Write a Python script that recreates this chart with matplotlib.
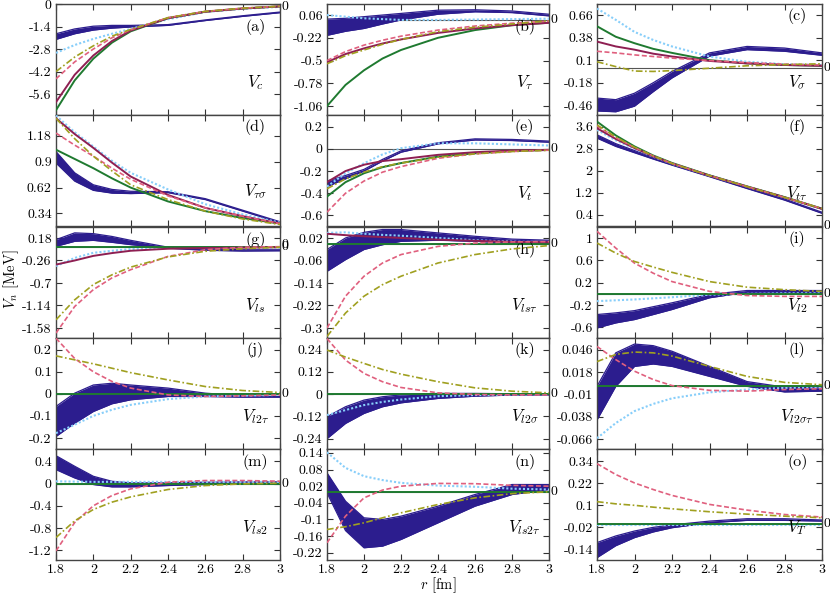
import matplotlib.pyplot as plt
import matplotlib.transforms as mtransforms

plt.rcParams['font.family'] = 'serif'
plt.rcParams['font.serif'] = ['cmr10', 'DejaVu Serif']
plt.rcParams['mathtext.fontset'] = 'cm'
plt.rcParams['axes.formatter.use_mathtext'] = True
plt.rcParams['axes.unicode_minus'] = False

R = [1.8, 1.9, 2.0, 2.1, 2.2, 2.4, 2.6, 2.8, 3.0]
ZERO = [0, 0, 0, 0, 0, 0, 0, 0, 0]

# (a) V_c
A_LO = [-2.2, -1.85, -1.62, -1.5, -1.43, -1.33, -1.03, -0.77, -0.54]
A_HI = [-1.85, -1.55, -1.38, -1.33, -1.33, -1.28, -0.99, -0.73, -0.5]
A_SKY = [-3.04, -2.55, -2.17, -1.85, -1.55, -0.95, -0.5, -0.3, -0.18]
A_GREEN = [-6.6, -4.75, -3.4, -2.4, -1.7, -0.88, -0.48, -0.28, -0.15]
A_MAROON = [-6.1, -4.4, -3.2, -2.3, -1.65, -0.88, -0.48, -0.28, -0.15]
A_PINK = [-4.65, -3.6, -2.8, -2.1, -1.6, -0.85, -0.46, -0.26, -0.14]
A_OLIVE = [-4.2, -3.3, -2.6, -2.0, -1.58, -0.85, -0.46, -0.26, -0.14]

# (b) V_tau
B_LO = [-0.19, -0.14, -0.105, -0.05, 0.0, 0.07, 0.1, 0.09, 0.05]
B_HI = [0.01, 0.02, 0.04, 0.06, 0.08, 0.12, 0.125, 0.11, 0.07]
B_SKY = [0.06, 0.04, 0.02, 0.01, 0.0, 0.0, 0.005, 0.01, 0.015]
B_GREEN = [-1.06, -0.8, -0.62, -0.475, -0.37, -0.22, -0.125, -0.065, -0.035]
B_MAROON = [-0.52, -0.42, -0.35, -0.29, -0.24, -0.16, -0.105, -0.065, -0.035]
B_PINK = [-0.5, -0.39, -0.31, -0.25, -0.2, -0.125, -0.075, -0.04, -0.015]
B_OLIVE = [-0.54, -0.44, -0.37, -0.3, -0.24, -0.145, -0.09, -0.05, -0.01]

# (c) V_sigma
C_LO = [-0.53, -0.54, -0.47, -0.29, -0.12, 0.15, 0.23, 0.21, 0.16]
C_HI = [-0.37, -0.39, -0.31, -0.18, -0.04, 0.19, 0.27, 0.25, 0.19]
C_SKY = [0.74, 0.6, 0.45, 0.35, 0.27, 0.145, 0.08, 0.05, 0.04]
C_GREEN = [0.52, 0.39, 0.31, 0.24, 0.19, 0.1, 0.06, 0.04, 0.03]
C_MAROON = [0.33, 0.27, 0.23, 0.18, 0.145, 0.09, 0.06, 0.04, 0.03]
C_PINK = [0.21, 0.19, 0.165, 0.145, 0.125, 0.095, 0.07, 0.05, 0.04]
C_OLIVE = [0.08, 0.02, -0.035, -0.04, -0.03, 0.0, 0.03, 0.045, 0.055]

# (d) V_tau sigma
D_LO = [0.886, 0.69, 0.59, 0.56, 0.555, 0.565, 0.49, 0.365, 0.24]
D_HI = [1.01, 0.78, 0.65, 0.6, 0.58, 0.575, 0.5, 0.375, 0.25]
D_SKY = [1.4, 1.22, 1.065, 0.91, 0.78, 0.6, 0.44, 0.33, 0.24]
D_GREEN = [1.03, 0.93, 0.83, 0.72, 0.62, 0.47, 0.365, 0.29, 0.23]
D_MAROON = [1.37, 1.2, 1.05, 0.89, 0.74, 0.54, 0.4, 0.31, 0.23]
D_PINK = [1.21, 1.08, 0.96, 0.83, 0.71, 0.53, 0.4, 0.31, 0.23]
D_OLIVE = [1.37, 1.15, 0.96, 0.8, 0.65, 0.49, 0.365, 0.28, 0.22]

# (e) V_t
E_LO = [-0.34, -0.27, -0.2, -0.11, -0.03, 0.045, 0.08, 0.075, 0.06]
E_HI = [-0.29, -0.24, -0.185, -0.095, -0.018, 0.055, 0.09, 0.085, 0.07]
E_SKY = [-0.34, -0.22, -0.13, -0.05, 0.006, 0.05, 0.05, 0.04, 0.03]
E_GREEN = [-0.43, -0.3, -0.22, -0.165, -0.128, -0.07, -0.04, -0.02, -0.01]
E_MAROON = [-0.3, -0.2, -0.143, -0.11, -0.093, -0.054, -0.03, -0.015, -0.009]
E_PINK = [-0.57, -0.4, -0.29, -0.21, -0.16, -0.085, -0.045, -0.024, -0.012]
E_OLIVE = [-0.36, -0.27, -0.21, -0.16, -0.128, -0.075, -0.045, -0.024, -0.012]

# (f) V_t tau
F_LO = [3.18, 2.88, 2.65, 2.42, 2.2, 1.78, 1.35, 0.93, 0.45]
F_HI = [3.3, 2.98, 2.73, 2.48, 2.25, 1.82, 1.39, 0.97, 0.49]
F_SKY = [3.48, 3.1, 2.8, 2.51, 2.25, 1.82, 1.42, 1.03, 0.6]
F_GREEN = [3.78, 3.28, 2.88, 2.55, 2.28, 1.83, 1.43, 1.04, 0.62]
F_MAROON = [3.54, 3.15, 2.82, 2.52, 2.26, 1.82, 1.42, 1.03, 0.61]
F_PINK = [3.62, 3.2, 2.84, 2.53, 2.26, 1.82, 1.42, 1.03, 0.62]
F_OLIVE = [3.66, 3.22, 2.85, 2.53, 2.26, 1.82, 1.42, 1.03, 0.62]

# (g) V_ls
G_LO = [0.017, 0.115, 0.134, 0.095, 0.05, -0.02, -0.06, -0.075, -0.07]
G_HI = [0.147, 0.28, 0.265, 0.21, 0.134, 0.0, -0.035, -0.05, -0.05]
G_SKY = [-0.37, -0.21, -0.11, -0.07, -0.036, -0.01, -0.01, -0.01, -0.01]
G_MAROON = [-0.34, -0.26, -0.17, -0.115, -0.07, -0.03, -0.015, -0.01, 0.0]
G_PINK = [-1.68, -1.16, -0.83, -0.6, -0.44, -0.18, -0.05, 0.0, 0.01]
G_OLIVE = [-1.42, -1.03, -0.73, -0.54, -0.39, -0.19, -0.08, -0.03, 0.0]

# (h) V_ls tau
H_LO = [-0.0985, -0.057, -0.021, -0.004, 0.008, 0.012, 0.008, 0.002, 0.0]
H_HI = [-0.021, 0.02, 0.04, 0.05, 0.05, 0.038, 0.026, 0.016, 0.012]
H_SKY = [0.038, 0.04, 0.035, 0.031, 0.028, 0.02, 0.012, 0.007, 0.005]
H_MAROON = [0.035, 0.03, 0.026, 0.023, 0.02, 0.014, 0.01, 0.006, 0.005]
H_PINK = [-0.3, -0.187, -0.116, -0.069, -0.039, -0.01, 0.002, 0.006, 0.007]
H_OLIVE = [-0.33, -0.247, -0.187, -0.146, -0.116, -0.069, -0.039, -0.019, -0.007]

# (i) V_l2
I_LO = [-0.61, -0.52, -0.46, -0.37, -0.28, -0.07, 0.03, 0.03, 0.015]
I_HI = [-0.37, -0.34, -0.3, -0.23, -0.16, -0.01, 0.06, 0.06, 0.06]
I_SKY = [-0.13, -0.115, -0.1, -0.08, -0.06, -0.015, 0.0, 0.01, 0.01]
I_PINK = [1.12, 0.82, 0.55, 0.37, 0.22, 0.045, -0.03, -0.045, -0.045]
I_OLIVE = [0.91, 0.73, 0.58, 0.48, 0.385, 0.22, 0.12, 0.075, 0.045]

# (j) V_l2 tau
J_LO = [-0.193, -0.133, -0.08, -0.045, -0.027, -0.012, -0.012, -0.015, -0.015]
J_HI = [-0.057, 0.003, 0.04, 0.048, 0.04, 0.026, 0.003, -0.009, -0.012]
J_SKY = [-0.178, -0.14, -0.1, -0.072, -0.05, -0.024, -0.012, -0.008, -0.005]
J_PINK = [0.252, 0.16, 0.1, 0.056, 0.026, -0.005, -0.012, -0.009, -0.005]
J_OLIVE = [0.172, 0.154, 0.136, 0.116, 0.096, 0.063, 0.033, 0.015, 0.006]

# (k) V_l2 sigma
K_LO = [-0.24, -0.158, -0.104, -0.068, -0.047, -0.023, -0.011, -0.005, -0.004]
K_HI = [-0.122, -0.068, -0.032, -0.014, -0.004, 0.004, 0.004, 0.002, 0.0]
K_SKY = [-0.113, -0.086, -0.059, -0.042, -0.029, -0.011, -0.005, -0.002, 0.0]
K_PINK = [0.3, 0.184, 0.112, 0.067, 0.036, 0.007, -0.002, -0.004, -0.004]
K_OLIVE = [0.238, 0.2, 0.166, 0.133, 0.108, 0.067, 0.034, 0.016, 0.007]

# (l) V_l2 sigma tau
L_LO = [-0.042, 0.0, 0.025, 0.028, 0.025, 0.0125, 0.0, -0.007, -0.006]
L_HI = [0.0, 0.042, 0.053, 0.051, 0.044, 0.025, 0.006, -0.001, -0.002]
L_SKY = [-0.065, -0.046, -0.031, -0.022, -0.015, -0.0075, -0.004, -0.002, -0.001]
L_PINK = [0.05, 0.0335, 0.019, 0.0085, 0.001, -0.005, -0.006, -0.004, -0.003]
L_OLIVE = [0.031, 0.04, 0.043, 0.042, 0.038, 0.025, 0.0125, 0.005, 0.002]

# (m) V_ls2
M_LO = [0.25, 0.1, -0.018, -0.06, -0.06, -0.036, -0.018, -0.012, -0.006]
M_HI = [0.5, 0.31, 0.13, 0.04, 0.012, 0.012, 0.024, 0.03, 0.03]
M_SKY = [0.04, 0.035, 0.03, 0.03, 0.03, 0.03, 0.03, 0.03, 0.03]
M_PINK = [-1.21, -0.7, -0.4, -0.215, -0.096, 0.024, 0.054, 0.054, 0.042]
M_OLIVE = [-0.97, -0.67, -0.466, -0.334, -0.24, -0.107, -0.036, -0.006, 0.006]

# (n) V_ls2 tau
N_LO = [-0.004, -0.14, -0.202, -0.196, -0.172, -0.112, -0.052, -0.01, 0.008]
N_HI = [0.068, -0.034, -0.094, -0.1, -0.088, -0.052, -0.01, 0.026, 0.026]
N_SKY = [0.142, 0.086, 0.056, 0.042, 0.032, 0.022, 0.018, 0.011, 0.008]
N_PINK = [-0.184, -0.088, -0.022, 0.006, 0.02, 0.03, 0.029, 0.023, 0.02]
N_OLIVE = [-0.136, -0.126, -0.112, -0.094, -0.076, -0.046, -0.022, -0.007, 0.0]

# (o) V_T
O_LO = [-0.185, -0.12, -0.076, -0.045, -0.022, 0.005, 0.018, 0.018, 0.014]
O_HI = [-0.103, -0.067, -0.04, -0.02, -0.007, 0.014, 0.027, 0.027, 0.02]
O_SKY = [-0.008, -0.008, -0.008, -0.008, -0.008, -0.008, -0.008, -0.008, -0.008]
O_PINK = [0.327, 0.268, 0.222, 0.186, 0.154, 0.105, 0.074, 0.05, 0.036]
O_OLIVE = [0.12, 0.108, 0.1, 0.09, 0.081, 0.065, 0.052, 0.041, 0.032]

XTICKS = [1.8, 2.0, 2.2, 2.4, 2.6, 2.8, 3.0]

BAND = '#2c1d8e'
SKY = '#87cefa'
GREEN = '#1f7a30'
MAROON = '#8e1f52'
PINK = '#e0607e'
OLIVE = '#a0a020'

# letter, V label, ylim, yticks, band lo/hi, sky, green, maroon, pink, olive, letter height
panels = [
    ('(a)', r'$V_c$', (-6.9, 0), [0, -1.4, -2.8, -4.2, -5.6], A_LO, A_HI, A_SKY, A_GREEN, A_MAROON, A_PINK, A_OLIVE, 0.79),
    ('(b)', r'$V_\tau$', (-1.17, 0.196), [0.06, -0.22, -0.5, -0.78, -1.06], B_LO, B_HI, B_SKY, B_GREEN, B_MAROON, B_PINK, B_OLIVE, 0.79),
    ('(c)', r'$V_\sigma$', (-0.58, 0.796), [0.66, 0.38, 0.1, -0.18, -0.46], C_LO, C_HI, C_SKY, C_GREEN, C_MAROON, C_PINK, C_OLIVE, 0.89),
    ('(d)', r'$V_{\tau\sigma}$', (0.204, 1.406), [1.18, 0.9, 0.62, 0.34], D_LO, D_HI, D_SKY, D_GREEN, D_MAROON, D_PINK, D_OLIVE, 0.89),
    ('(e)', r'$V_t$', (-0.695, 0.305), [0.2, 0, -0.2, -0.4, -0.6], E_LO, E_HI, E_SKY, E_GREEN, E_MAROON, E_PINK, E_OLIVE, 0.89),
    ('(f)', r'$V_{t\tau}$', (-0.01, 4.02), [3.6, 2.8, 2, 1.2, 0.4], F_LO, F_HI, F_SKY, F_GREEN, F_MAROON, F_PINK, F_OLIVE, 0.89),
    ('(g)', r'$V_{ls}$', (-1.776, 0.395), [0.18, -0.26, -0.7, -1.14, -1.58], G_LO, G_HI, G_SKY, ZERO, G_MAROON, G_PINK, G_OLIVE, 0.885),
    ('(h)', r'$V_{ls\tau}$', (-0.3356, 0.059), [0.02, -0.06, -0.14, -0.22, -0.3], H_LO, H_HI, H_SKY, ZERO, H_MAROON, H_PINK, H_OLIVE, 0.79),
    ('(i)', r'$V_{l2}$', (-0.79, 1.197), [1, 0.6, 0.2, -0.2, -0.6], I_LO, I_HI, I_SKY, ZERO, None, I_PINK, I_OLIVE, 0.89),
    ('(j)', r'$V_{l2\tau}$', (-0.25, 0.253), [0.2, 0.1, 0, -0.1, -0.2], J_LO, J_HI, J_SKY, ZERO, None, J_PINK, J_OLIVE, 0.89),
    ('(k)', r'$V_{l2\sigma}$', (-0.296, 0.303), [0.24, 0.12, 0, -0.12, -0.24], K_LO, K_HI, K_SKY, ZERO, None, K_PINK, K_OLIVE, 0.89),
    ('(l)', r'$V_{l2\sigma\tau}$', (-0.0785, 0.0606), [0.046, 0.018, -0.01, -0.038, -0.066], L_LO, L_HI, L_SKY, ZERO, None, L_PINK, L_OLIVE, 0.89),
    ('(m)', r'$V_{ls2}$', (-1.373, 0.62), [0.4, 0, -0.4, -0.8, -1.2], M_LO, M_HI, M_SKY, ZERO, None, M_PINK, M_OLIVE, 0.885),
    ('(n)', r'$V_{ls2\tau}$', (-0.246, 0.154), [0.14, 0.08, 0.02, -0.04, -0.1, -0.16, -0.22], N_LO, N_HI, N_SKY, ZERO, None, N_PINK, N_OLIVE, 0.885),
    ('(o)', r'$V_T$', (-0.198, 0.407), [0.34, 0.22, 0.1, -0.02, -0.14], O_LO, O_HI, O_SKY, ZERO, None, O_PINK, O_OLIVE, 0.885),
]

W, H = 830, 593
lefts = [56, 327, 597]
widths = [224, 222, 225]
tops = [4, 115, 227, 338, 449]
ph = 111

fig = plt.figure(figsize=(8.3, 5.93), dpi=100)

for i, p in enumerate(panels):
    letter, vlab, ylim, yt, lo, hi, sky, green, maroon, pink, olive, ly = p
    row, col = divmod(i, 3)
    ax = fig.add_axes([lefts[col] / W, 1 - (tops[row] + ph) / H, widths[col] / W, ph / H])

    ax.axhline(0, color='#555555', lw=0.8, zorder=1)
    ax.fill_between(R, lo, hi, color=BAND, lw=0, zorder=2)
    ax.plot(R, lo, color=BAND, lw=0.9, zorder=2)
    ax.plot(R, hi, color=BAND, lw=0.9, zorder=2)
    ax.plot(R, sky, color=SKY, lw=1.5, ls=(0, (1, 1)), zorder=3)
    ax.plot(R, green, color=GREEN, lw=1.4, zorder=3)
    if maroon is not None:
        ax.plot(R, maroon, color=MAROON, lw=1.4, zorder=3)
    ax.plot(R, pink, color=PINK, lw=1.2, ls=(0, (3, 1.5)), zorder=4)
    ax.plot(R, olive, color=OLIVE, lw=1.2, ls=(0, (4, 1.5, 1, 1.5)), zorder=4)

    ax.set_xlim(1.8, 3.0)
    ax.set_ylim(*ylim)
    ax.set_xticks(XTICKS, ['%g' % t for t in XTICKS])
    ax.set_yticks(yt, ['%g' % t for t in yt])
    ax.tick_params(direction='in', top=True, right=True, length=4, width=0.8,
                   color='#333333', labelsize=10, pad=3)
    if row < 4:
        ax.tick_params(labelbottom=False)
    for s in ax.spines.values():
        s.set_color('#444444')
        s.set_linewidth(1.0)

    # zero marker on the right-hand axis
    trans = mtransforms.blended_transform_factory(ax.transAxes, ax.transData)
    if ylim[1] == 0:
        trans = trans + mtransforms.ScaledTranslation(0, -2 / 72, fig.dpi_scale_trans)
    ax.text(1.008, 0, '0', transform=trans, ha='left', va='center', fontsize=10, clip_on=False)
    ax.text(0.89, ly, letter, transform=ax.transAxes, ha='center', va='center', fontsize=11.5)
    ax.text(0.89, 0.31 if i == 3 else 0.29, vlab, transform=ax.transAxes,
            ha='center', va='center', fontsize=12)

fig.text(0.013, 0.53, r'$V_n$ [MeV]', rotation=90, ha='center', va='center', fontsize=10.5)
fig.text(0.528, 0.014, r'$r$ [fm]', ha='center', va='center', fontsize=10.5)

fig.savefig('out.png', dpi=100)
